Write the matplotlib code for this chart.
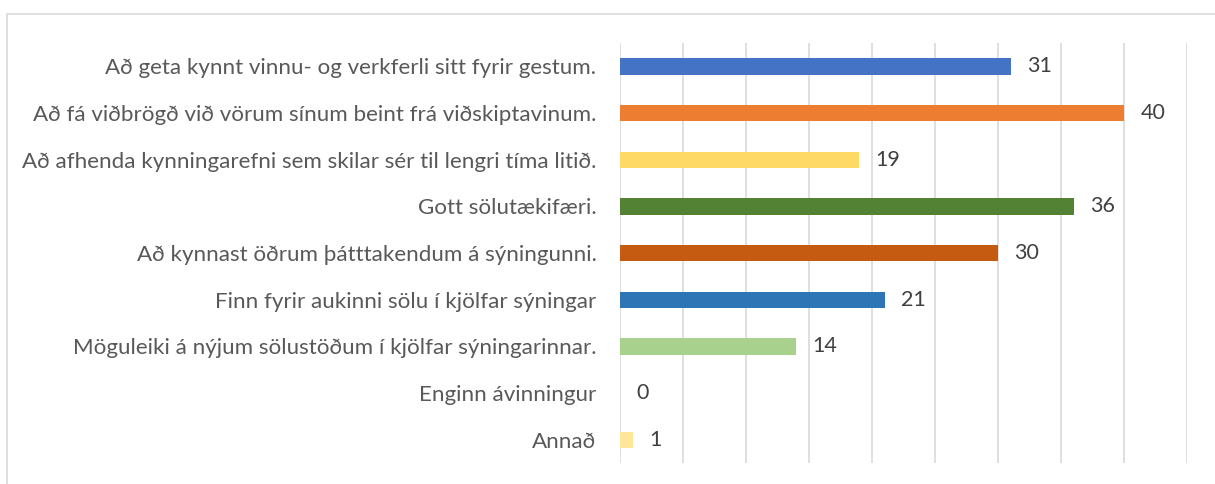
import matplotlib.pyplot as plt
from matplotlib.patches import Rectangle

labels = ['Að geta kynnt vinnu- og verkferli sitt fyrir gestum.',
          'Að fá viðbrögð við vörum sínum beint frá viðskiptavinum.',
          'Að afhenda kynningarefni sem skilar sér til lengri tíma litið.',
          'Gott sölutækifæri.',
          'Að kynnast öðrum þátttakendum á sýningunni.',
          'Finn fyrir aukinni sölu í kjölfar sýningar',
          'Möguleiki á nýjum sölustöðum í kjölfar sýningarinnar.',
          'Enginn ávinningur',
          'Annað']
values = [31, 40, 19, 36, 30, 21, 14, 0, 1]
colors = ['#4472C4', '#ED7D31', '#FFD966', '#548235', '#C55A11',
          '#2E75B6', '#A9D18E', '#7F7F7F', '#FFE699']

plt.rcParams['font.family'] = ['Lato', 'DejaVu Sans']

fig = plt.figure(figsize=(12.15, 4.84), dpi=100)
ax = fig.add_axes([620/1215, 1-463/484, 567/1215, 420/484])

y = list(range(len(labels)))
ax.barh(y, values, height=0.35, color=colors, zorder=3)
for yi, v in zip(y, values):
    ax.text(v + 1.3, yi, str(v), va='center', ha='left', fontsize=15.5, color='#404040')

ax.set_xlim(0, 45)
ax.set_ylim(8.5, -0.5)
ax.set_xticks(range(0, 46, 5))
ax.set_xticklabels([])
ax.tick_params(length=0)
ax.set_yticks(y)
ax.set_yticklabels(labels, fontsize=16.1, color='#595959')
ax.tick_params(axis='y', pad=17)
ax.grid(axis='x', color='#D9D9D9', linewidth=1.2, zorder=0)
for s in ax.spines.values():
    s.set_visible(False)

fig.patches.append(Rectangle((7/1215, -0.1), 1.2, 1 - 14/484 + 0.1,
                             transform=fig.transFigure, fill=False,
                             edgecolor='#D9D9D9', linewidth=1.2))

plt.savefig('out.png', dpi=100)
